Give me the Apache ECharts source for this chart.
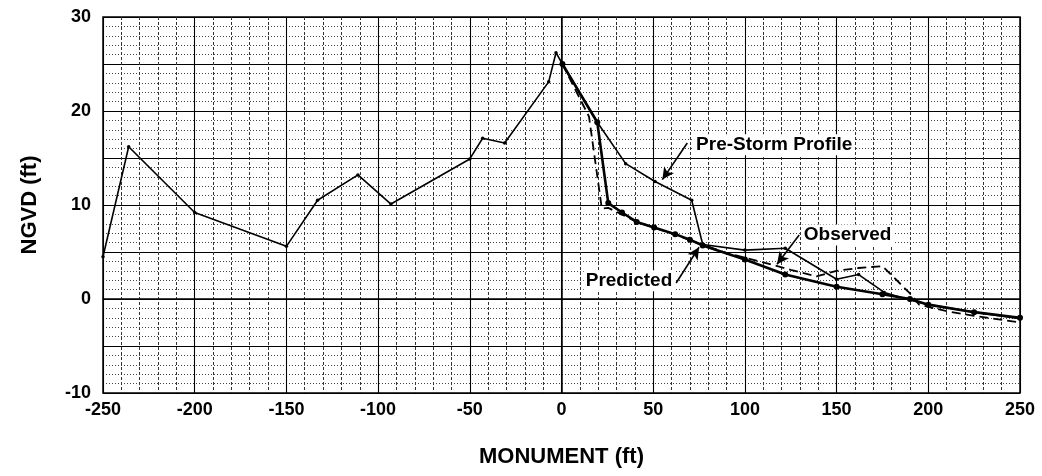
<!DOCTYPE html>
<html>
<head>
<meta charset="utf-8">
<script src="https://cdn.jsdelivr.net/npm/echarts@6/dist/echarts.min.js"></script>
<style>
html,body{margin:0;padding:0;background:#fff;}
#chart{width:1042px;height:476px;}
</style>
</head>
<body>
<div id="chart"></div>
<script>
// ---- data ----
const preX = [-250, -236, -200, -150, -133, -111, -93, -50, -43, -31, -7, -3, 0.5, 19.5, 35, 51, 71, 77, 100, 122, 150, 162, 176, 190, 200, 225, 250];
const preY = [4.5, 16.2, 9.2, 5.6, 10.5, 13.2, 10.1, 14.9, 17.1, 16.6, 23.1, 26.2, 25.0, 18.8, 14.4, 12.5, 10.5, 5.8, 5.2, 5.4, 2.1, 2.6, 0.7, -0.1, -0.6, -1.4, -2.1];

const predX = [0.5, 19.5, 25.5, 33, 41, 50.5, 62, 70, 77, 100, 122, 150, 175, 190, 200, 225, 250];
const predY = [25.0, 18.8, 10.2, 9.2, 8.2, 7.6, 6.9, 6.3, 5.7, 4.2, 2.6, 1.3, 0.5, 0.0, -0.6, -1.4, -2.0];

const obsX = [0.5, 15, 21, 22, 25.5, 40, 50, 60, 75, 90, 100, 110, 125, 139, 150, 162, 175, 190, 195, 210, 225, 250];
const obsY = [25.0, 19.4, 11.0, 9.6, 9.7, 8.3, 7.6, 7.0, 5.9, 4.9, 4.4, 3.9, 3.1, 2.4, 3.0, 3.3, 3.5, 0.6, -0.6, -1.3, -1.8, -2.5];

const xTicks = [-250, -200, -150, -100, -50, 0, 50, 100, 150, 200, 250];
const yTicks = [-10, 0, 10, 20, 30];

const labelTexts = ['Pre-Storm Profile', 'Observed', 'Predicted'];

// ---- build ----
const zip = (xs, ys) => xs.map((x, i) => [x, ys[i]]);
const font = '"Liberation Sans", Arial, Helvetica, sans-serif';

const chart = echarts.init(document.getElementById('chart'), null, {renderer: 'canvas'});

const labelStyle = {
  show: true, color: '#000', opacity: 1, fontFamily: font, fontWeight: 'bold', fontSize: 19,
  backgroundColor: '#fff', padding: [1, 2]
};

chart.setOption({
  animation: false,
  backgroundColor: '#fff',
  grid: {left: 103, right: 22, top: 17, bottom: 83, show: true, borderColor: '#000', borderWidth: 1.5},
  xAxis: {
    type: 'value', min: -250, max: 250, interval: 50,
    name: 'MONUMENT (ft)', nameLocation: 'middle', nameGap: 53,
    nameTextStyle: {fontFamily: font, fontWeight: 'bold', fontSize: 22, color: '#000'},
    axisLine: {show: true, lineStyle: {color: '#000', width: 1.5}},
    axisTick: {show: false},
    axisLabel: {
      fontFamily: font, fontWeight: 'bold', fontSize: 18, color: '#000', margin: 8,
      formatter: v => xTicks.includes(v) ? String(v) : ''
    },
    splitLine: {show: true, lineStyle: {color: '#000', width: 1.1}},
    minorTick: {show: false, splitNumber: 5},
    minorSplitLine: {show: true, lineStyle: {color: '#333', width: 1, type: [3, 2]}}
  },
  yAxis: {
    type: 'value', min: -10, max: 30, interval: 5,
    name: 'NGVD (ft)', nameLocation: 'middle', nameGap: 62, nameRotate: 90,
    nameTextStyle: {fontFamily: font, fontWeight: 'bold', fontSize: 22, color: '#000'},
    axisLine: {show: true, lineStyle: {color: '#000', width: 1.5}},
    axisTick: {show: false},
    axisLabel: {
      fontFamily: font, fontWeight: 'bold', fontSize: 18, color: '#000', margin: 12,
      formatter: v => yTicks.includes(v) ? String(v) : ''
    },
    splitLine: {show: true, lineStyle: {color: '#000', width: 1.1}},
    minorTick: {show: false, splitNumber: 5},
    minorSplitLine: {show: true, lineStyle: {color: '#444', width: 1, type: [1, 2]}}
  },
  series: [
    {
      name: 'Pre-Storm Profile', type: 'line', data: zip(preX, preY),
      symbol: 'circle', symbolSize: 3.5, showSymbol: true,
      lineStyle: {color: '#000', width: 1.6}, itemStyle: {color: '#000'},
      z: 3
    },
    {
      name: 'Observed', type: 'line', data: zip(obsX, obsY),
      symbol: 'none',
      lineStyle: {color: '#000', width: 1.8, type: [9, 5]},
      z: 4
    },
    {
      name: 'Predicted', type: 'line', data: zip(predX, predY),
      symbol: 'circle', symbolSize: 6,
      lineStyle: {color: '#000', width: 2.6}, itemStyle: {color: '#000'},
      z: 5
    },
    {
      name: 'annotations', type: 'scatter', symbolSize: 0, z: 10,
      itemStyle: {color: '#000', opacity: 1},
      data: [
        {value: [72.3, 16.4], label: Object.assign({}, labelStyle, {position: 'right', distance: 0, formatter: labelTexts[0]})},
        {value: [131, 6.8], label: Object.assign({}, labelStyle, {position: 'right', distance: 0, formatter: labelTexts[1]})},
        {value: [61.5, 1.95], label: Object.assign({}, labelStyle, {position: 'left', distance: 0, formatter: labelTexts[2]})}
      ],
      markLine: {
        silent: true, symbol: ['none', 'arrow'], symbolSize: [9, 12],
        label: {show: false},
        lineStyle: {color: '#000', width: 1.6, type: 'solid'},
        data: [
          [{coord: [68.6, 16.6]}, {coord: [55, 12.7]}],
          [{coord: [129.6, 6.8]}, {coord: [117.5, 3.7]}],
          [{coord: [62.5, 1.7]}, {coord: [75, 5.5]}]
        ]
      }
    }
  ]
});
</script>
</body>
</html>
